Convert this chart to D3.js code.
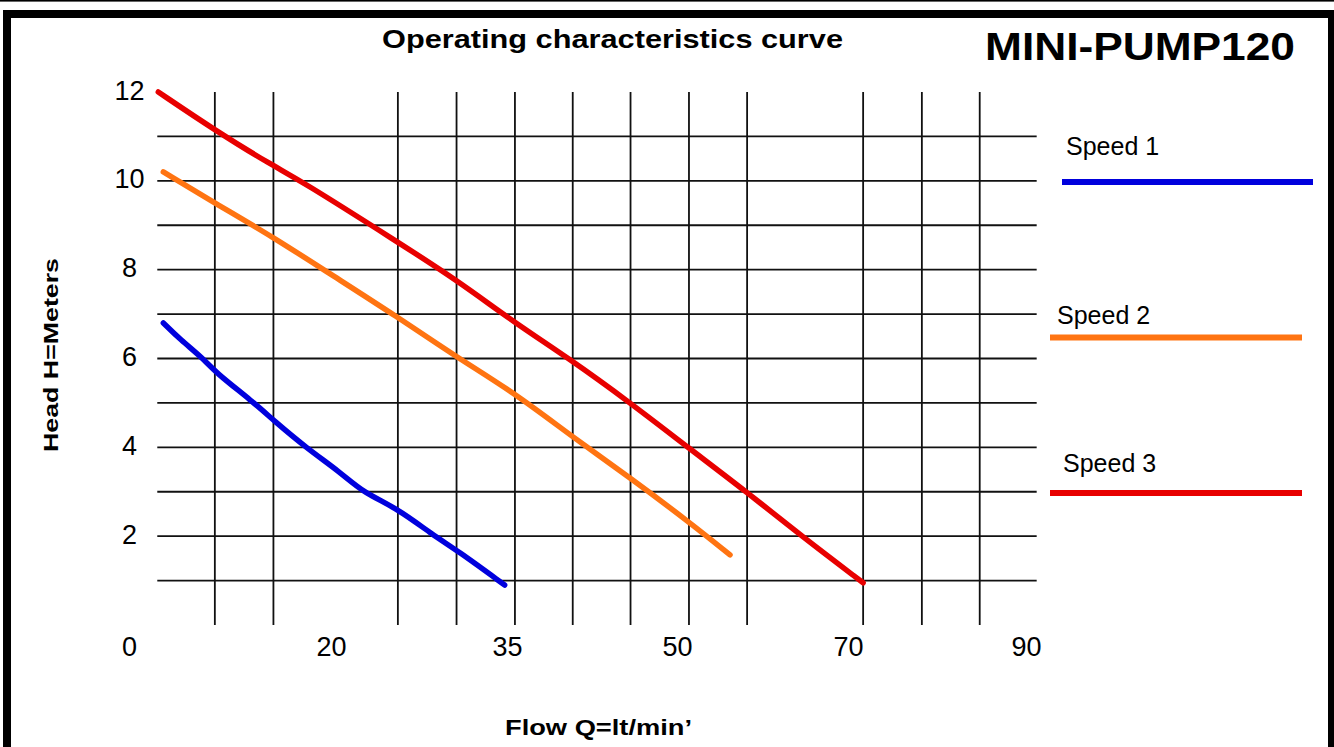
<!DOCTYPE html>
<html>
<head>
<meta charset="utf-8">
<script src="https://cdn.jsdelivr.net/npm/d3@7"></script>
<style>
  html, body { margin: 0; padding: 0; background: #fff; }
  svg { display: block; }
  text { font-family: "Liberation Sans", Arial, sans-serif; fill: #000; }
</style>
</head>
<body>
<svg id="chart" width="1334" height="747"></svg>
<script>
// ---------- data ----------
const xTicks = [0, 20, 35, 50, 70, 90];
const yTicks = [2, 4, 6, 8, 10, 12];
const xGrid = [8.5, 14.3, 25.7, 30.7, 35.7, 40.8, 45.9, 51.4, 58.2, 71.7, 78.3, 84.8];
const yGrid = [1, 2, 3, 4, 5, 6, 7, 8, 9, 10, 11];
const seriesNames = ["Speed 1", "Speed 2", "Speed 3"];
const seriesColors = ["#0000dd", "#ff7412", "#e80000"];

const speed1Flow = [3.4, 5.1, 7.3, 8.5, 12.3, 14.3, 17.6, 20.8, 22.7, 25.7, 28.7, 30.7, 34.8];
const speed1Head = [6.80, 6.42, 6.01, 5.70, 5.02, 4.61, 3.98, 3.44, 2.99, 2.62, 2.02, 1.69, 0.90];

const speed2Flow = [3.4, 8.5, 14.3, 19.6, 25.7, 30.7, 35.7, 40.8, 45.9, 51.4, 56.2];
const speed2Head = [10.20, 9.50, 8.73, 7.95, 6.93, 6.03, 5.22, 4.23, 3.31, 2.32, 1.58];

const speed3Flow = [2.9, 8.5, 14.3, 16.9, 25.7, 30.7, 35.7, 40.3, 45.9, 51.4, 58.2, 64.7, 71.7];
const speed3Head = [12.0, 11.14, 10.33, 10.02, 8.62, 7.77, 6.80, 6.03, 5.00, 3.98, 2.99, 1.98, 0.95];

const gridXExtent = [2.8, 91.2];
const yDomain = [0, 12];

// ---------- scales ----------
const svg = d3.select("#chart");
// axis labels in the original are unevenly spaced: piecewise-linear scale through the tick labels
const x = d3.scaleLinear().domain(xTicks).range([129, 331, 507, 677, 848, 1026]);
const y = d3.scaleLinear().domain(yDomain).range([625, 92]);

// ---------- frame ----------
svg.append("rect").attr("x", 0).attr("y", 0).attr("width", 1334).attr("height", 747).attr("fill", "#fff");
svg.append("rect").attr("x", 0).attr("y", 0).attr("width", 1334).attr("height", 1.6).attr("fill", "#000");
svg.append("rect").attr("x", 3).attr("y", 10).attr("width", 1331).attr("height", 737).attr("fill", "#000");
svg.append("rect").attr("x", 11).attr("y", 18).attr("width", 1317).attr("height", 729).attr("fill", "#fff");

// ---------- grid ----------
const grid = svg.append("g").attr("stroke", "#111").attr("stroke-width", 1.8);
grid.selectAll("line.h").data(yGrid).join("line")
  .attr("class", "h")
  .attr("x1", x(gridXExtent[0])).attr("x2", x(gridXExtent[1]))
  .attr("y1", d => y(d)).attr("y2", d => y(d));
grid.selectAll("line.v").data(xGrid).join("line")
  .attr("class", "v")
  .attr("x1", d => x(d)).attr("x2", d => x(d))
  .attr("y1", y(yDomain[1])).attr("y2", y(yDomain[0]));

// ---------- axes (labels only) ----------
const xAxis = svg.append("g")
  .attr("transform", `translate(0, ${y(0) + 31})`)
  .call(d3.axisBottom(x).tickValues(xTicks).tickSize(0).tickPadding(0).tickFormat(d3.format("d")));
xAxis.select(".domain").remove();
xAxis.selectAll("text")
  .attr("dy", null).attr("y", 0)
  .attr("font-family", "'Liberation Sans', Arial, sans-serif")
  .attr("font-size", 27).attr("fill", "#000");

const yAxis = svg.append("g")
  .attr("transform", `translate(129.5, 7)`)
  .call(d3.axisLeft(y).tickValues(yTicks).tickSize(0).tickPadding(0).tickFormat(d3.format("d")));
yAxis.select(".domain").remove();
yAxis.selectAll("text")
  .attr("dy", null).attr("x", 0)
  .attr("text-anchor", "middle")
  .attr("font-family", "'Liberation Sans', Arial, sans-serif")
  .attr("font-size", 27).attr("fill", "#000");

// ---------- curves ----------
const series = [
  { name: seriesNames[0], color: seriesColors[0], flow: speed1Flow, head: speed1Head },
  { name: seriesNames[1], color: seriesColors[1], flow: speed2Flow, head: speed2Head },
  { name: seriesNames[2], color: seriesColors[2], flow: speed3Flow, head: speed3Head }
];
const line = d3.line()
  .x(d => x(d[0])).y(d => y(d[1]))
  .curve(d3.curveBasis);

svg.append("g").selectAll("path").data(series).join("path")
  .attr("d", s => line(s.flow.map((f, i) => [f, s.head[i]])))
  .attr("fill", "none")
  .attr("stroke", s => s.color)
  .attr("stroke-width", 5.5)
  .attr("stroke-linecap", "round")
  .attr("stroke-linejoin", "round");

// ---------- legend ----------
const legendLayout = [
  { tx: 1066, ty: 155, lx1: 1062, lx2: 1313, ly: 182 },
  { tx: 1057, ty: 324, lx1: 1050, lx2: 1302, ly: 337.5 },
  { tx: 1063, ty: 472, lx1: 1050, lx2: 1302, ly: 493 }
];
const legend = svg.append("g");
series.forEach((s, i) => {
  const L = legendLayout[i];
  legend.append("text").attr("x", L.tx).attr("y", L.ty)
    .attr("font-size", 25).text(s.name);
  legend.append("line")
    .attr("x1", L.lx1).attr("x2", L.lx2).attr("y1", L.ly).attr("y2", L.ly)
    .attr("stroke", s.color).attr("stroke-width", 6);
});

// ---------- titles ----------
svg.append("text").attr("x", 382).attr("y", 48)
  .attr("font-size", 25).attr("font-weight", "bold")
  .attr("textLength", 461).attr("lengthAdjust", "spacingAndGlyphs")
  .text("Operating characteristics curve");

svg.append("text").attr("x", 985).attr("y", 60)
  .attr("font-size", 39).attr("font-weight", "bold")
  .attr("textLength", 310).attr("lengthAdjust", "spacingAndGlyphs")
  .text("MINI-PUMP120");

svg.append("text")
  .attr("transform", "translate(58, 452) rotate(-90)")
  .attr("font-size", 21).attr("font-weight", "bold")
  .attr("textLength", 194).attr("lengthAdjust", "spacingAndGlyphs")
  .text("Head H=Meters");

svg.append("text").attr("x", 505).attr("y", 735)
  .attr("font-size", 22).attr("font-weight", "bold")
  .attr("textLength", 187).attr("lengthAdjust", "spacingAndGlyphs")
  .text("Flow Q=lt/min’");
</script>
</body>
</html>
